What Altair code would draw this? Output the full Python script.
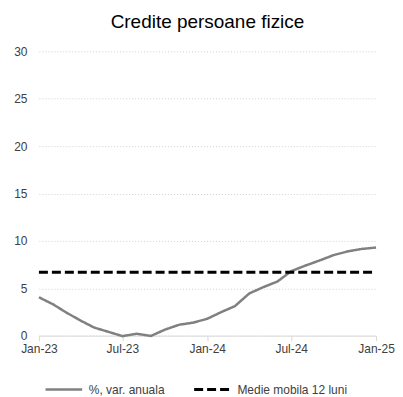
import altair as alt
import pandas as pd

months = ["2023-01-01", "2023-02-01", "2023-03-01", "2023-04-01", "2023-05-01", "2023-06-01",
          "2023-07-01", "2023-08-01", "2023-09-01", "2023-10-01", "2023-11-01", "2023-12-01",
          "2024-01-01", "2024-02-01", "2024-03-01", "2024-04-01", "2024-05-01", "2024-06-01",
          "2024-07-01", "2024-08-01", "2024-09-01", "2024-10-01", "2024-11-01", "2024-12-01",
          "2025-01-01"]
var_anuala = [4.05, 3.3, 2.45, 1.6, 0.85, 0.4, -0.05, 0.2, -0.03, 0.63, 1.15, 1.37,
              1.78, 2.5, 3.12, 4.45, 5.11, 5.71, 6.8, 7.4, 7.94, 8.5, 8.9, 9.15, 9.3]
medie_mobila = [6.7] * len(months)

series_names = ["%, var. anuala", "Medie mobila 12 luni"]
x_tick_values = ["2023-01-01", "2023-07-01", "2024-01-01", "2024-07-01", "2025-01-01"]
y_ticks = [0, 5, 10, 15, 20, 25, 30]

rows = []
for m, v in zip(months, var_anuala):
    rows.append({"date": m, "value": v, "series": series_names[0]})
for m, v in zip(months, medie_mobila):
    rows.append({"date": m, "value": v, "series": series_names[1]})
df = pd.DataFrame(rows)

FONT = "Liberation Sans"

legend_kw = dict(title=None, orient="none", legendX=5, legendY=319,
                 direction="horizontal", symbolType="stroke",
                 symbolSize=1350, symbolStrokeWidth=2.5,
                 labelFontSize=12, labelFont=FONT, labelColor="#404040",
                 columnPadding=22, labelOffset=5)

chart = alt.Chart(df).mark_line(strokeCap="butt").encode(
    x=alt.X("date:T",
            scale=alt.Scale(domain=[months[0], months[-1]]),
            axis=alt.Axis(title=None, values=x_tick_values, format="%b-%y",
                          grid=False, tickColor="#d9d9d9", tickSize=5,
                          domainColor="#d9d9d9", labelFontSize=12, labelFlush=False,
                          labelColor="#404040", labelPadding=3, labelFont=FONT)),
    y=alt.Y("value:Q",
            scale=alt.Scale(domain=[0, 30], nice=False),
            axis=alt.Axis(title=None, values=y_ticks, grid=True, gridDash=[1, 2],
                          gridColor="#d0d0d0", domain=False, ticks=False,
                          labelFontSize=12, labelColor="#404040", labelPadding=12,
                          labelFont=FONT)),
    color=alt.Color("series:N",
                    scale=alt.Scale(domain=series_names, range=["#808080", "#000000"]),
                    legend=alt.Legend(**legend_kw)),
    strokeDash=alt.StrokeDash("series:N",
                              scale=alt.Scale(domain=series_names, range=[[1, 0], [9, 4]]),
                              legend=alt.Legend(**legend_kw)),
    strokeWidth=alt.StrokeWidth("series:N",
                                scale=alt.Scale(domain=series_names, range=[2.5, 3]),
                                legend=None),
).properties(
    width=338,
    height=285,
    padding={"left": 5, "top": 5, "right": 0, "bottom": 0},
    title=alt.Title("Credite persoane fizice", fontSize=19, font=FONT,
                    fontWeight="normal", color="#000000", anchor="middle", offset=13),
).configure_view(stroke=None)

chart.save("out.html", embed_options={"renderer": "svg", "actions": False})
